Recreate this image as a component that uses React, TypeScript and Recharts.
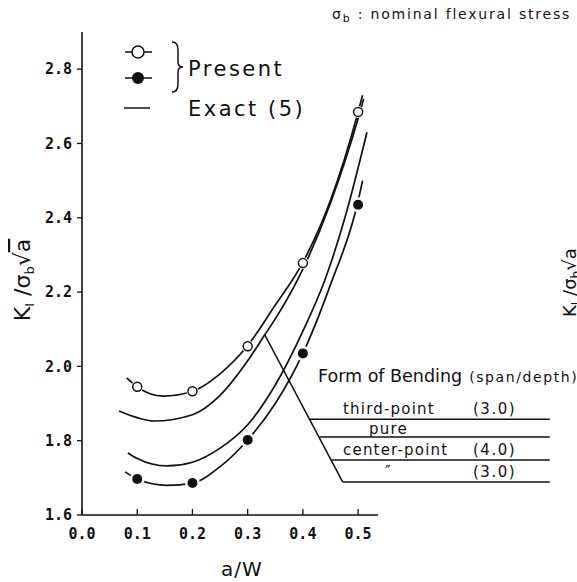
import React from "react";
import {
  ComposedChart,
  Line,
  Scatter,
  XAxis,
  YAxis,
  ReferenceLine,
} from "recharts";

const xTicks = [0, 0.1, 0.2, 0.3, 0.4, 0.5];
const yTicks = [1.6, 1.8, 2.0, 2.2, 2.4, 2.6, 2.8];

// "Exact [5]" curves
const thirdPointX = [0.081, 0.1, 0.147, 0.2, 0.25, 0.3, 0.35, 0.4, 0.45, 0.5, 0.508];
const thirdPointY = [1.969, 1.945, 1.92, 1.933, 1.98, 2.056, 2.165, 2.28, 2.447, 2.685, 2.73];

const pureX = [0.067, 0.1, 0.13, 0.2, 0.25, 0.3, 0.331, 0.35, 0.4, 0.45, 0.5, 0.51];
const pureY = [1.88, 1.862, 1.853, 1.87, 1.922, 2.015, 2.085, 2.128, 2.262, 2.44, 2.667, 2.72];

const center4X = [0.083, 0.1, 0.154, 0.2, 0.25, 0.3, 0.35, 0.4, 0.44, 0.478, 0.516];
const center4Y = [1.767, 1.752, 1.732, 1.742, 1.78, 1.843, 1.95, 2.095, 2.233, 2.41, 2.63];

const center3X = [0.078, 0.1, 0.154, 0.2, 0.25, 0.3, 0.35, 0.4, 0.45, 0.5, 0.508];
const center3Y = [1.716, 1.697, 1.68, 1.686, 1.73, 1.802, 1.9, 2.035, 2.22, 2.445, 2.5];

// "Present" results
const presentX = [0.1, 0.2, 0.3, 0.4, 0.5];
const presentOpen = [1.945, 1.933, 2.054, 2.278, 2.685];
const presentFilled = [1.697, 1.686, 1.802, 2.035, 2.435];

// Form of bending table
const bendingForms = ["third-point", "pure", "center-point", "\u2033"];
const spanRatios = ["(3.0)", "", "(4.0)", "(3.0)"];
const rowLevels = [1.858, 1.81, 1.748, 1.689];
const leaderTop = { x: 0.331, y: 2.085 };
const leaderBottom = { x: 0.472, y: 1.689 };
const tableRight = 0.847;

const pts = (xs: number[], ys: number[]) => xs.map((x, i) => ({ x, y: ys[i] }));

const INK = "#111";
const tickFont = "'DejaVu Sans Mono', monospace";
const textFont = "'DejaVu Sans', sans-serif";

const rowStart = (v: number) =>
  leaderTop.x +
  ((leaderTop.y - v) / (leaderTop.y - leaderBottom.y)) * (leaderBottom.x - leaderTop.x);

const XTick = (props: any) => {
  const { x, y, payload } = props;
  return (
    <g>
      <line x1={x} x2={x} y1={y - 6} y2={y} stroke={INK} strokeWidth={1.3} />
      <text
        x={x}
        y={y + 24}
        textAnchor="middle"
        fontFamily={tickFont}
        fontWeight="bold"
        fontSize={15}
        fill={INK}
      >
        {payload.value.toFixed(1)}
      </text>
    </g>
  );
};

const OpenDot = (props: any) => (
  <g>
    <circle cx={props.cx} cy={props.cy} r={6} fill="#fff" />
    <circle cx={props.cx} cy={props.cy} r={4.5} fill="#fff" stroke={INK} strokeWidth={1.5} />
  </g>
);

const FilledDot = (props: any) => (
  <g>
    <circle cx={props.cx} cy={props.cy} r={7.5} fill="#fff" />
    <circle cx={props.cx} cy={props.cy} r={5} fill={INK} />
  </g>
);

export default function App() {
  const curves = [
    pts(thirdPointX, thirdPointY),
    pts(pureX, pureY),
    pts(center4X, center4Y),
    pts(center3X, center3Y),
  ];
  const rowY = [414, 434, 455, 477];

  return (
    <div
      style={{
        position: "absolute",
        left: 0,
        top: 0,
        width: 577,
        height: 582,
        overflow: "hidden",
        background: "#fff",
      }}
    >
      <ComposedChart
        width={577}
        height={582}
        margin={{ top: 32, right: 199, bottom: 37, left: 32 }}
      >
        <XAxis
          dataKey="x"
          type="number"
          domain={[0, 0.536]}
          ticks={xTicks}
          height={30}
          tickSize={0}
          tickMargin={0}
          tickLine={false}
          tick={<XTick />}
          axisLine={{ stroke: INK, strokeWidth: 1.6 }}
          allowDataOverflow
        />
        <YAxis
          dataKey="y"
          type="number"
          domain={[1.6, 2.9]}
          ticks={yTicks}
          width={50}
          tickSize={5}
          tickMargin={5}
          tickFormatter={(v: number) => v.toFixed(1)}
          tick={{ fill: INK, fontFamily: tickFont, fontWeight: "bold", fontSize: 15 }}
          tickLine={{ stroke: INK, strokeWidth: 1.3 }}
          axisLine={{ stroke: INK, strokeWidth: 1.6 }}
          allowDataOverflow
        />
        {curves.map((d, i) => (
          <Line
            key={i}
            data={d}
            dataKey="y"
            type="monotone"
            stroke={INK}
            strokeWidth={1.7}
            dot={false}
            isAnimationActive={false}
          />
        ))}
        <ReferenceLine
          segment={[leaderTop, leaderBottom]}
          stroke={INK}
          strokeWidth={1.5}
          ifOverflow="visible"
        />
        {rowLevels.map((v, i) => (
          <ReferenceLine
            key={i}
            segment={[
              { x: rowStart(v), y: v },
              { x: tableRight, y: v },
            ]}
            stroke={INK}
            strokeWidth={1.5}
            ifOverflow="visible"
          />
        ))}
        <Scatter
          data={pts(presentX, presentOpen)}
          shape={<OpenDot />}
          isAnimationActive={false}
        />
        <Scatter
          data={pts(presentX, presentFilled)}
          shape={<FilledDot />}
          isAnimationActive={false}
        />
      </ComposedChart>

      <svg
        width={577}
        height={582}
        style={{ position: "absolute", left: 0, top: 0, pointerEvents: "none" }}
      >
        <g fill={INK} fontFamily={textFont}>
          <text x={332} y={19} fontSize={14} letterSpacing={1.8}>
            σ<tspan fontSize={11} dy={3}>b</tspan>
            <tspan dy={-3}> : nominal flexural stress</tspan>
          </text>

          {/* legend */}
          <line x1={125} x2={152} y1={52} y2={52} stroke={INK} strokeWidth={1.5} />
          <circle cx={138} cy={52} r={6} fill="#fff" stroke={INK} strokeWidth={1.5} />
          <line x1={125} x2={152} y1={78} y2={78} stroke={INK} strokeWidth={1.5} />
          <circle cx={138} cy={78} r={6} fill={INK} />
          <path
            d="M172,42 Q178,42 178,50 L178,62 Q178,67 183,67 Q178,67 178,72 L178,84 Q178,92 172,92"
            fill="none"
            stroke={INK}
            strokeWidth={1.5}
          />
          <text x={188} y={76} fontSize={21} letterSpacing={2.5}>
            Present
          </text>
          <line x1={124} x2={150} y1={108} y2={108} stroke={INK} strokeWidth={1.5} />
          <text x={188} y={116} fontSize={21} letterSpacing={2.5}>
            Exact (5)
          </text>

          {/* axis titles */}
          <text
            transform="translate(30,280) rotate(-90)"
            textAnchor="middle"
            fontSize={22}
          >
            K<tspan fontSize={13} dy={4}>I</tspan>
            <tspan dy={-4}> /σ</tspan>
            <tspan fontSize={13} dy={4}>b</tspan>
            <tspan dy={-4}>√</tspan>
            <tspan textDecoration="overline">a</tspan>
          </text>
          <text x={242} y={576} textAnchor="middle" fontSize={20} letterSpacing={1}>
            a/W
          </text>
          <text transform="translate(576,317) rotate(-90)" fontSize={18}>
            K<tspan fontSize={12} dy={4}>I</tspan>
            <tspan dy={-4}> /σ</tspan>
            <tspan fontSize={12} dy={4}>b</tspan>
            <tspan dy={-4}>√a</tspan>
          </text>

          {/* form of bending table */}
          <text x={318} y={382} fontSize={17.5}>
            Form of Bending
            <tspan fontSize={14} dx={7} letterSpacing={1.6}>
              (span/depth)
            </tspan>
          </text>
          {bendingForms.map((f, i) => (
            <text
              key={f}
              x={[343, 369, 343, 385][i]}
              y={rowY[i]}
              fontSize={15}
              letterSpacing={1.2}
            >
              {f}
            </text>
          ))}
          {spanRatios.map((r, i) =>
            r ? (
              <text key={i} x={473} y={rowY[i]} fontSize={15} letterSpacing={1.5}>
                {r}
              </text>
            ) : null
          )}
        </g>
      </svg>
    </div>
  );
}
